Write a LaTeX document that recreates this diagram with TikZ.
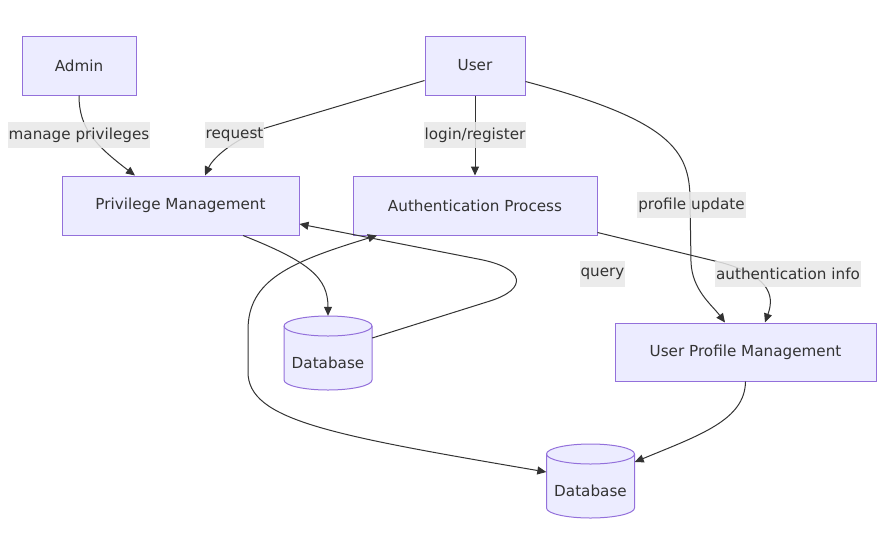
\documentclass[tikz,border=0pt]{standalone}
\usepackage{fontspec}
\setmainfont{DejaVu Sans}
\usetikzlibrary{arrows.meta}
\definecolor{nodefill}{HTML}{ECECFF}
\definecolor{nodeline}{HTML}{9370DB}
\definecolor{edgecol}{HTML}{333333}
\definecolor{labelbg}{HTML}{E8E8E8}
\definecolor{txt}{HTML}{333333}
\newcommand\dbcyl[1]{%
  \begin{scope}[shift={#1}]
    \filldraw[draw=nodeline, fill=nodefill, line width=1pt]
      (-44,27) -- (-44,-27) arc[start angle=180, end angle=360, x radius=44, y radius=10]
      -- (44,27) arc[start angle=0, end angle=180, x radius=44, y radius=10] -- cycle;
    \draw[nodeline, line width=1pt] (-44,27) arc[start angle=180, end angle=360, x radius=44, y radius=10];
  \end{scope}}
\begin{document}
\begin{tikzpicture}[x=1pt,y=1pt,
  txtfont/.style={font=\fontsize{15.2}{18}\selectfont},
  box/.style={draw=nodeline, fill=nodefill, line width=1pt, minimum height=59pt, inner sep=0pt, text=txt, txtfont},
  dbnode/.style={inner sep=0pt, minimum width=88pt, minimum height=74pt},
  dblabel/.style={yshift=-10pt, inner sep=0pt, text=txt, txtfont},
  edge/.style={draw=edgecol, line width=1pt, -{Triangle[length=9pt,width=8pt]}},
  lbl/.style={fill=labelbg, fill opacity=0.85, text opacity=1, text=txt, inner xsep=1pt, inner ysep=0pt, minimum height=26pt, txtfont}]
\useasboundingbox (0,0) rectangle (885,-555);

% nodes
\node[box, minimum width=114pt] (admin) at (79,-65.5) {Admin};
\node[box, minimum width=100pt] (user) at (475,-65.5) {User};
\node[box, minimum width=237pt] (pm) at (180.5,-205.5) {Privilege Management};
\node[box, minimum width=244pt] (ap) at (475,-205.5) {Authentication Process};
\node[box, minimum width=261pt, minimum height=58pt] (upm) at (745.5,-352) {User Profile Management};
\dbcyl{(328,-353)}
\node[dbnode, label={[dblabel]center:Database}] (db1) at (328,-353) {};
\dbcyl{(590.5,-481)}
\node[dbnode, label={[dblabel]center:Database}] (db2) at (590.5,-481) {};

% edges
\draw[edge] (admin.south) .. controls (79,-128) and (95,-145) .. ([xshift=-45.5pt]pm.north);
\draw[edge] ([yshift=-15pt]user.west) -- (262,-129) .. controls (228,-143) and (212,-160) .. ([xshift=24.5pt]pm.north);
\draw[edge] (user.south) -- (ap.north);
\draw[edge] ([yshift=-16pt]user.east) .. controls (670,-120) and (690,-150) .. (690,-200) -- (691,-262) .. controls (692,-290) and (712,-305) .. ([xshift=-20.5pt]upm.north);
\draw[edge] ([yshift=-27pt]ap.east) -- (723,-263) .. controls (775,-278) and (773,-300) .. ([xshift=19.5pt]upm.north);
\draw[edge] ([xshift=62.5pt]pm.south) .. controls (310,-262) and (328,-278) .. (db1.north);
\draw[edge] ([yshift=15pt]db1.east) -- (490,-301) .. controls (528,-289) and (526,-268) .. (478,-259) -- ([yshift=-18.5pt]pm.east);
\draw[edge, {Triangle[length=9pt,width=8pt]}-{Triangle[length=9pt,width=8pt]}] ([xshift=-98pt]ap.south) .. controls (290,-262) and (248,-280) .. (248,-330) -- (248,-372) .. controls (248,-420) and (330,-435) .. ([yshift=9pt]db2.west);
\draw[edge] (upm.south) .. controls (745,-420) and (700,-435) .. ([yshift=19pt]db2.east);

% labels
\node[lbl] (l1) at (79,-135) {manage privileges};
\node[lbl] (l2) at (234.5,-135) {request};
\node[lbl] (l3) at (475,-135) {login/register};
\node[lbl] (l4) at (691.5,-205) {profile update};
\node[lbl] (l5) at (602.5,-274) {query};
\node[lbl] (l6) at (788,-274) {authentication info};
\end{tikzpicture}
\end{document}
